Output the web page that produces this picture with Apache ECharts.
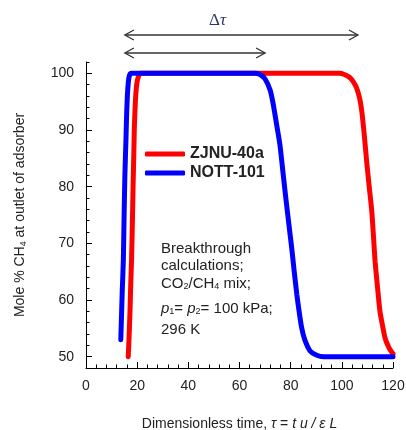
<!DOCTYPE html>
<html><head><meta charset="utf-8">
<script src="https://cdn.jsdelivr.net/npm/echarts@6/dist/echarts.min.js"></script>
<style>html,body{margin:0;padding:0;background:#fff}#c{width:406px;height:430px}</style>
</head><body><div id="c"></div>
<script>
// ---- data ----
const seriesNames = ['ZJNU-40a', 'NOTT-101'];
const zjnuTau = [16.5,16.8,17.2,17.5,17.8,18.1,18.4,18.7,18.9,19.3,19.8,20.4,21.3,40,80,99,101,103,104.5,105.8,107,107.8,108.8,109.7,110.7,111.7,112.4,113,114,114.9,115.9,116.9,118.5,120];
const zjnuCH4 = [50,53,58,63,67,73,80,86,90.4,95,98,99.3,100,100,100,100,99.8,99.3,98.5,97.4,95.5,93.3,89,84.5,80,75.7,71,66.8,62,58,55.5,53.3,51.5,50.5];
const nottTau = [13.6,13.8,14.2,14.6,14.9,15.2,15.6,15.9,16.3,16.8,17.5,20,40,60,66,68,70,72,73.2,74.5,75.8,77,78.4,79.4,80.4,81.4,82.4,83.3,84.3,85.5,87.6,90,92.8,100,120];
const nottCH4 = [53,56,62,67,75,82,88,93,97,99.3,100,100,100,100,100,99.8,99,97,94.5,91,87.4,82.5,76.8,73,69.2,65,61,58,55.1,53,51,50.3,50,50,50];
const yMajor = [50,60,70,80,90,100];
const yMinor = [52,54,56,58,62,64,66,68,72,74,76,78,82,84,86,88,92,94,96,98,102];
const arrowFrom = 15.2;
const arrowTo = [106.3, 70];
const noteLines = ['Breakthrough','calculations;','CO{sub|2}/CH{sub|4} mix;','{i|p}{sub|1}= {i|p}{sub|2}= 100 kPa;','296 K'];

const zip = (a,b) => a.map((v,i)=>[v,b[i]]);
const chart = echarts.init(document.getElementById('c'), null, {renderer:'canvas'});
const FONT = 'Liberation Sans, Arial, sans-serif';
const txt = '#222';
const sub = {fontSize:9, verticalAlign:'bottom', padding:[6,0,0,0], fontFamily:FONT, color:txt};

chart.setOption({
  animation:false,
  backgroundColor:'#fff',
  grid:{left:86,right:13,top:62,bottom:62,containLabel:false,outerBoundsMode:'none'},
  xAxis:{
    type:'value',min:0,max:120,interval:20,
    axisLine:{lineStyle:{color:'#000',width:1}},
    axisTick:{inside:true,length:6,lineStyle:{color:'#000'}},
    minorTick:{show:true,splitNumber:5,length:3.5,lineStyle:{color:'#000'}},
    splitLine:{show:false},
    axisLabel:{color:txt,fontSize:14,fontFamily:FONT,margin:11},
    name:'Dimensionless time, {i|τ} = {i|t u / ε L}',
    nameLocation:'middle',nameGap:49,
    nameTextStyle:{color:txt,fontSize:14,fontFamily:FONT,rich:{i:{fontStyle:'italic',fontSize:14,fontFamily:FONT,color:txt}}}
  },
  yAxis:[{
    type:'value',min:48,max:102,
    axisLine:{show:true,lineStyle:{color:'#000',width:1}},
    axisTick:{inside:true,length:6,customValues:yMajor,lineStyle:{color:'#000'}},
    splitLine:{show:false},
    axisLabel:{customValues:yMajor,color:txt,fontSize:14,fontFamily:FONT,margin:12},
    name:'Mole % CH{sub|4} at outlet of adsorber',
    nameLocation:'middle',nameGap:58,nameRotate:90,
    nameTextStyle:{color:txt,fontSize:14,fontFamily:FONT,rich:{sub:sub}}
  },{
    type:'value',min:48,max:102,position:'left',
    axisLine:{show:false},
    axisTick:{inside:true,length:3.5,customValues:yMinor,lineStyle:{color:'#000'}},
    axisLabel:{show:false},splitLine:{show:false}
  }],
  legend:{
    orient:'vertical',left:145,top:146,padding:0,itemWidth:40,itemHeight:5,itemGap:3,
    icon:'roundRect',
    textStyle:{fontSize:16,fontWeight:'bold',fontFamily:FONT,color:txt},
    data:seriesNames
  },
  series:[
    {name:seriesNames[0],type:'line',data:zip(zjnuTau,zjnuCH4),showSymbol:false,smooth:0.2,
     lineStyle:{color:'#ff0000',width:5,cap:'round'},itemStyle:{color:'#ff0000'},z:2},
    {name:seriesNames[1],type:'line',data:zip(nottTau,nottCH4),showSymbol:false,smooth:0.2,
     lineStyle:{color:'#0000ff',width:5,cap:'round'},itemStyle:{color:'#0000ff'},z:3}
  ]
});

function arrow(x1,x2,y){
  const h=9, w=5;
  return [
    {type:'line',shape:{x1:x1,y1:y,x2:x2,y2:y},style:{stroke:'#333',lineWidth:1.3}},
    {type:'polyline',shape:{points:[[x1+h,y-w],[x1,y],[x1+h,y+w]]},style:{stroke:'#333',lineWidth:1.3,fill:null}},
    {type:'polyline',shape:{points:[[x2-h,y-w],[x2,y],[x2-h,y+w]]},style:{stroke:'#333',lineWidth:1.3,fill:null}}
  ];
}
const px0 = chart.convertToPixel({xAxisIndex:0}, arrowFrom);
const px1 = chart.convertToPixel({xAxisIndex:0}, arrowTo[0]);
const px2 = chart.convertToPixel({xAxisIndex:0}, arrowTo[1]);
const g = [].concat(arrow(px0,px1,35), arrow(px0,px2,53));
g.push({type:'text',left:209,top:12,style:{text:'Δ{i|τ}',font:'17px "Liberation Serif", serif',fill:'#2a3766',
  rich:{i:{fontStyle:'italic',fontSize:17,fontFamily:'Liberation Serif, serif',fill:'#2a3766'}}}});
const r = {sub:{fontSize:9,verticalAlign:'bottom',padding:[6,0,0,0],fontFamily:FONT,fill:txt},
           i:{fontStyle:'italic',fontSize:15,fontFamily:FONT,fill:txt}};
const noteY = [249,266,284,309,330];
noteLines.forEach((t,k)=>{
  g.push({type:'text',x:161,y:noteY[k],style:{text:t,font:'15px '+FONT,fill:txt,verticalAlign:'middle',rich:r}});
});
chart.setOption({graphic:g});
</script></body></html>
